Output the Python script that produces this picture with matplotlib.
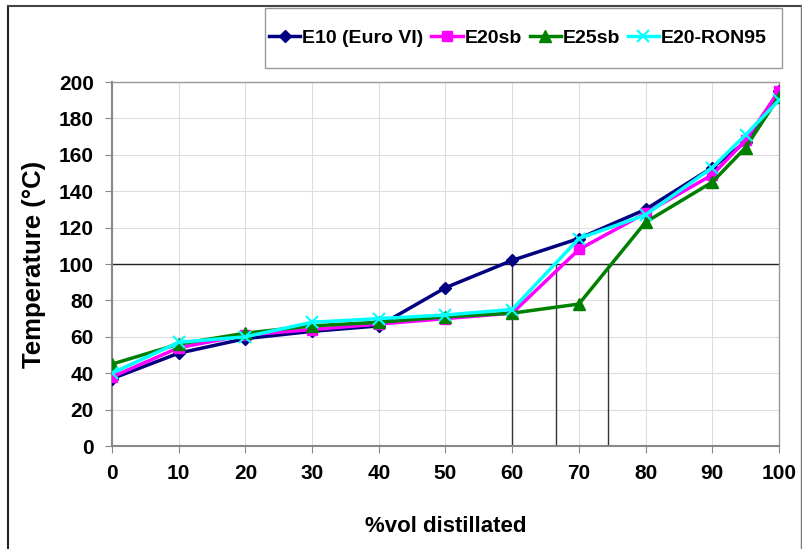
import matplotlib
matplotlib.use("Agg")
import matplotlib.pyplot as plt
from matplotlib.lines import Line2D
from matplotlib.patches import Rectangle

plt.rcParams['font.family'] = ['Liberation Sans', 'DejaVu Sans']

x_vals = [0, 10, 20, 30, 40, 50, 60, 70, 80, 90, 95, 100]
e10 = [37, 51, 59, 63, 66, 87, 102, 114, 130, 153, 167, 195]
e20sb = [38, 54, 61, 64, 67, 70, 73, 108, 128, 149, 168, 195]
e25sb = [45, 56, 62, 66, 68, 71, 73, 78, 123, 145, 164, 192]
e20ron95 = [40, 57, 60, 68, 70, 72, 75, 114, 127, 153, 171, 190]

series_names = ["E10 (Euro VI)", "E20sb", "E25sb", "E20-RON95"]
ref_temp = 100
ref_x = [60, 66.5, 74.4]
x_ticks = [0, 10, 20, 30, 40, 50, 60, 70, 80, 90, 100]
y_ticks = [0, 20, 40, 60, 80, 100, 120, 140, 160, 180, 200]

fig = plt.figure(figsize=(8.03, 5.49), dpi=100)
ax = fig.add_axes([112/803, 1-446/549, (779-112)/803, (446-82)/549])

ax.grid(True, color='#dddddd', lw=0.8)
ax.set_axisbelow(True)

ax.axhline(ref_temp, color='#222222', lw=1.0, zorder=2)
for xv in ref_x:
    ax.plot([xv, xv], [0, ref_temp], color='#333333', lw=1.0, zorder=2)

styles = [
    dict(color='#000080', marker='D', ms=6),
    dict(color='#ff00ff', marker='s', ms=7),
    dict(color='#008000', marker='^', ms=8),
    dict(color='#00ffff', marker='x', ms=9, mew=1.5),
]
for data, name, st in zip([e10, e20sb, e25sb, e20ron95], series_names, styles):
    ax.plot(x_vals, data, lw=2.5, label=name, zorder=3, **st)

ax.set_xlim(0, 100)
ax.set_ylim(0, 200)
ax.set_xticks(x_ticks)
ax.set_yticks(y_ticks)
for s in ax.spines.values():
    s.set_color('#999999')
    s.set_linewidth(1.0)
ax.spines['left'].set_color('#888888')
ax.spines['bottom'].set_color('#888888')
ax.spines['left'].set_linewidth(1.5)
ax.spines['bottom'].set_linewidth(1.5)
ax.tick_params(direction='out', length=5, color='#888888', labelsize=15, pad=8)
for lab in ax.get_xticklabels() + ax.get_yticklabels():
    lab.set_fontweight('bold')
ax.set_xlabel("%vol distillated", fontsize=16, fontweight='bold', labelpad=24)
ax.set_ylabel("Temperature (°C)", fontsize=18.5, fontweight='bold', labelpad=9)

# legend box
fig.patches.append(Rectangle((265/803, 1-68/549), 517/803, 60/549,
                             transform=fig.transFigure, fill=False,
                             edgecolor='#999999', lw=1.0))
handles, labels = ax.get_legend_handles_labels()
leg = fig.legend(handles, labels, loc='center', bbox_to_anchor=(518/803, 1-38/549),
                 ncol=4, frameon=False, handlelength=1.6, handletextpad=0.1,
                 columnspacing=0.4, prop={'weight': 'bold', 'size': 14})

# figure border
fig.add_artist(Line2D([8/803, 8/803], [0, 1-6/549], transform=fig.transFigure, color='#222222', lw=1.5))
fig.add_artist(Line2D([8/803, 1], [1-6/549, 1-6/549], transform=fig.transFigure, color='#444444', lw=1.5))
fig.add_artist(Line2D([801/803, 801/803], [0, 1-6/549], transform=fig.transFigure, color='#777777', lw=1.0))

fig.savefig("out.png", dpi=100)
